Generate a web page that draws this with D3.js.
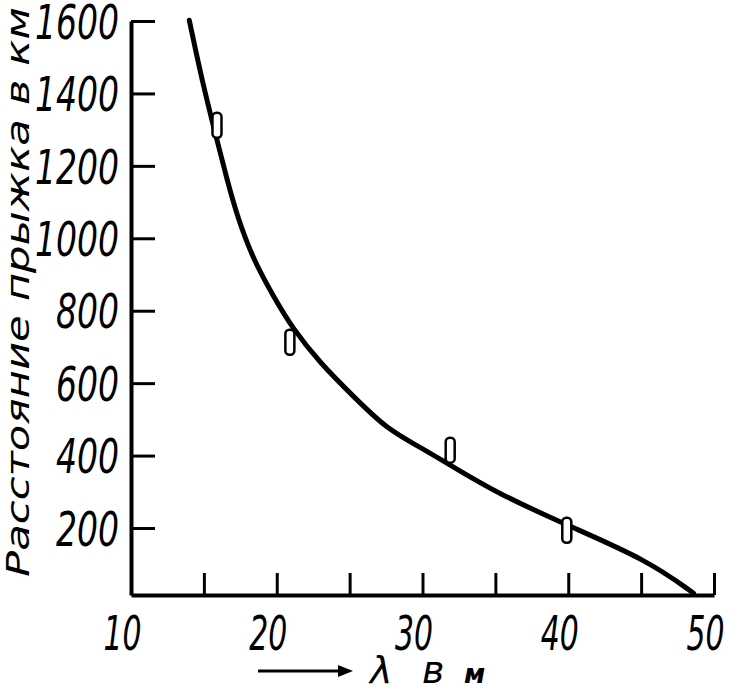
<!DOCTYPE html>
<html>
<head>
<meta charset="utf-8">
<script src="https://cdn.jsdelivr.net/npm/d3@7"></script>
<style>
  body { margin: 0; background: #fff; }
  svg { display: block; }
</style>
</head>
<body>
<div id="chart"></div>
<script>
// curve: wavelength (m) vs skip distance (km)
var curveLambda = [14.0, 14.9, 15.9, 16.6, 17.3, 18.4, 19.8, 21.0, 23.0, 25.3, 27.5, 29.8, 32.1, 35.1, 39.9, 45.4, 48.6];
var curveDist   = [1602, 1430, 1271, 1160, 1059, 940, 838, 756, 654, 562, 475, 424, 369, 297, 208, 112, 20];

// measured points (open markers)
var obsLambda = [15.9, 20.9, 31.9, 39.9];
var obsDist   = [1312, 713, 415, 194];

var xTicks = [10, 15, 20, 25, 30, 35, 40, 45, 50];
var xLabels = [10, 20, 30, 40, 50];
var yTicks = [200, 400, 600, 800, 1000, 1200, 1400, 1600];

var width = 740, height = 692;

var svg = d3.select("#chart")
    .append("svg")
    .attr("width", width)
    .attr("height", height);

svg.append("rect")
    .attr("width", "100%")
    .attr("height", "100%")
    .attr("fill", "white");

var x = d3.scaleLinear().domain([10, 50]).range([131, 714]);
var y = d3.scaleLinear().domain([15, 1600]).range([595, 21]);

var numFont = "'DejaVu Sans Condensed', 'DejaVu Sans', sans-serif";

// y axis, ticks pointing into the plot
var yAxis = svg.append("g")
    .attr("transform", "translate(" + x(10) + ",0)")
    .call(d3.axisLeft(y)
        .tickValues(yTicks)
        .tickFormat(d3.format("d"))
        .tickSizeInner(-24)
        .tickSizeOuter(0)
        .tickPadding(12));

yAxis.select(".domain").attr("stroke-width", 4);
yAxis.selectAll(".tick line").attr("stroke-width", 3);
yAxis.selectAll("text")
    .attr("font-family", numFont)
    .attr("font-style", "italic")
    .attr("font-size", 48)
    .attr("fill", "black")
    .attr("dy", "0.36em")
    .attr("textLength", function(d) { return String(d).length * 21; })
    .attr("lengthAdjust", "spacingAndGlyphs");

// x axis ticks
var xAxis = svg.append("g")
    .attr("transform", "translate(0," + y(15) + ")")
    .call(d3.axisBottom(x)
        .tickValues(xTicks)
        .tickSizeInner(-22)
        .tickSizeOuter(0)
        .tickFormat(""));

xAxis.select(".domain").attr("stroke-width", 4);
xAxis.selectAll(".tick line").attr("stroke-width", 3);

// x labels only every 10
var xLab = svg.append("g")
    .attr("transform", "translate(-9," + y(15) + ")")
    .call(d3.axisBottom(x)
        .tickValues(xLabels)
        .tickSize(0)
        .tickPadding(21));

xLab.select(".domain").remove();
xLab.selectAll("text")
    .attr("font-family", numFont)
    .attr("font-style", "italic")
    .attr("font-size", 48)
    .attr("fill", "black")
    .attr("textLength", 38)
    .attr("lengthAdjust", "spacingAndGlyphs");

// main curve
var curve = d3.range(curveLambda.length).map(function(i) {
    return [curveLambda[i], curveDist[i]];
});

var line = d3.line()
    .x(function(d) { return x(d[0]); })
    .y(function(d) { return y(d[1]); })
    .curve(d3.curveBasis);

svg.append("path")
    .datum(curve)
    .attr("d", line)
    .attr("fill", "none")
    .attr("stroke", "black")
    .attr("stroke-width", 5)
    .attr("stroke-linecap", "round");

// observation markers
var obs = d3.range(obsLambda.length).map(function(i) {
    return { l: obsLambda[i], d: obsDist[i] };
});

svg.append("g")
    .selectAll("rect")
    .data(obs)
    .enter().append("rect")
    .attr("x", function(d) { return x(d.l) - 4.5; })
    .attr("y", function(d) { return y(d.d) - 12.5; })
    .attr("width", 9)
    .attr("height", 25)
    .attr("rx", 4)
    .attr("fill", "white")
    .attr("stroke", "black")
    .attr("stroke-width", 2.5);

// y title (rotated)
svg.append("text")
    .attr("transform", "translate(29,577) rotate(-90)")
    .attr("font-family", "'DejaVu Sans', sans-serif")
    .attr("font-style", "italic")
    .attr("font-size", 32)
    .attr("fill", "black")
    .attr("textLength", 570)
    .attr("lengthAdjust", "spacingAndGlyphs")
    .text("Расстояние прыжка в км");

// x title with arrow
svg.append("path")
    .attr("d", "M258,671H342")
    .attr("stroke", "black")
    .attr("stroke-width", 3);

svg.append("path")
    .attr("d", "M338,665L353,671L338,677Z")
    .attr("fill", "black");

var xt = svg.append("g")
    .attr("font-family", "'DejaVu Sans', sans-serif")
    .attr("font-style", "italic")
    .attr("fill", "black");

xt.append("text").attr("x", 370).attr("y", 683).attr("font-size", 38).text("λ");
xt.append("text").attr("x", 422).attr("y", 683).attr("font-size", 38).text("в");
xt.append("text").attr("x", 464).attr("y", 683).attr("font-size", 26).attr("font-weight", "bold").text("м");
</script>
</body>
</html>
